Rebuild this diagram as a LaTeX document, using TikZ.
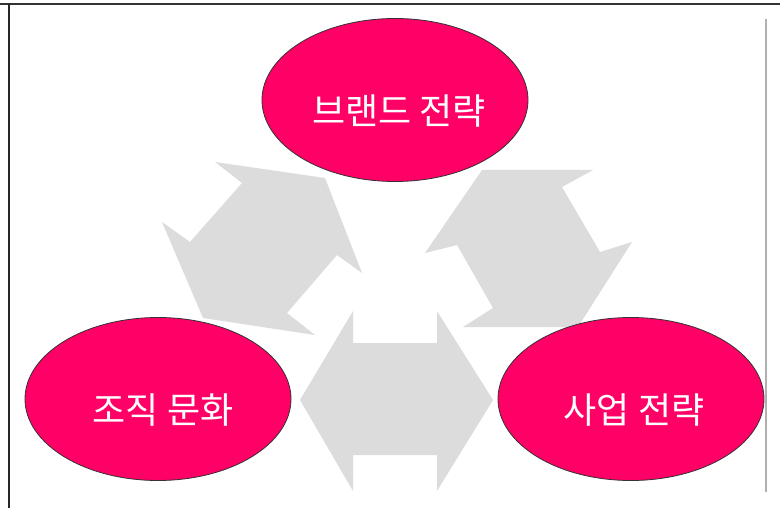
\documentclass[tikz,border=0pt]{standalone}
\usepackage{fontspec}
\newfontfamily\kr{Noto Sans CJK KR}
\usetikzlibrary{shapes.geometric}
\definecolor{bubblered}{RGB}{255,0,102}
\definecolor{arrowgrey}{RGB}{220,220,220}
\definecolor{rimgrey}{RGB}{176,176,176}
\tikzset{
  bubble/.style={ellipse, draw=black!80, line width=0.8pt, fill=bubblered,
    minimum width=266pt, minimum height=163pt, inner sep=0pt},
  bubbletext/.style={text=white, font=\kr\fontsize{36}{40}\selectfont, inner sep=0pt},
  bigarrow/.style={fill=arrowgrey, draw=none}
}
\begin{document}
\begin{tikzpicture}[x=1pt,y=-1pt]
\useasboundingbox (0,0) rectangle (780,508);
\fill[white] (0,0) rectangle (780,508);
% frame lines
\draw[black!80, line width=1.4pt] (0,4) -- (780,4);
\draw[black!85, line width=1.4pt] (9,4) -- (9,508);
\draw[rimgrey, line width=2pt] (766,19) -- (766,492);
% grey double arrows
\path[bigarrow] (215,162) -- (242,183) -- (190,242) -- (162,222) -- (203,318)
  -- (315,335) -- (287,313) -- (337,255) -- (362,273) -- (325,178) -- cycle;
\path[bigarrow] (482,170) -- (425,253) -- (457,245) -- (493,308) -- (463,327)
  -- (578,327) -- (632,242) -- (600,252) -- (562,187) -- (593,170) -- cycle;
\path[bigarrow] (300,400) -- (353,311) -- (353,343) -- (437,343) -- (437,311)
  -- (493,400) -- (437,491) -- (437,455) -- (353,455) -- (353,491) -- cycle;
% ellipses
\node[bubble] (brand) at (395,100) {};
\node[bubble] (culture) at (158,399) {};
\node[bubble] (business) at (631,399) {};
\node[bubbletext] (brandt) at (399,111) {브랜드 전략};
\node[bubbletext] (culturet) at (163,410) {조직 문화};
\node[bubbletext] (businesst) at (634,410) {사업 전략};
\end{tikzpicture}
\end{document}
